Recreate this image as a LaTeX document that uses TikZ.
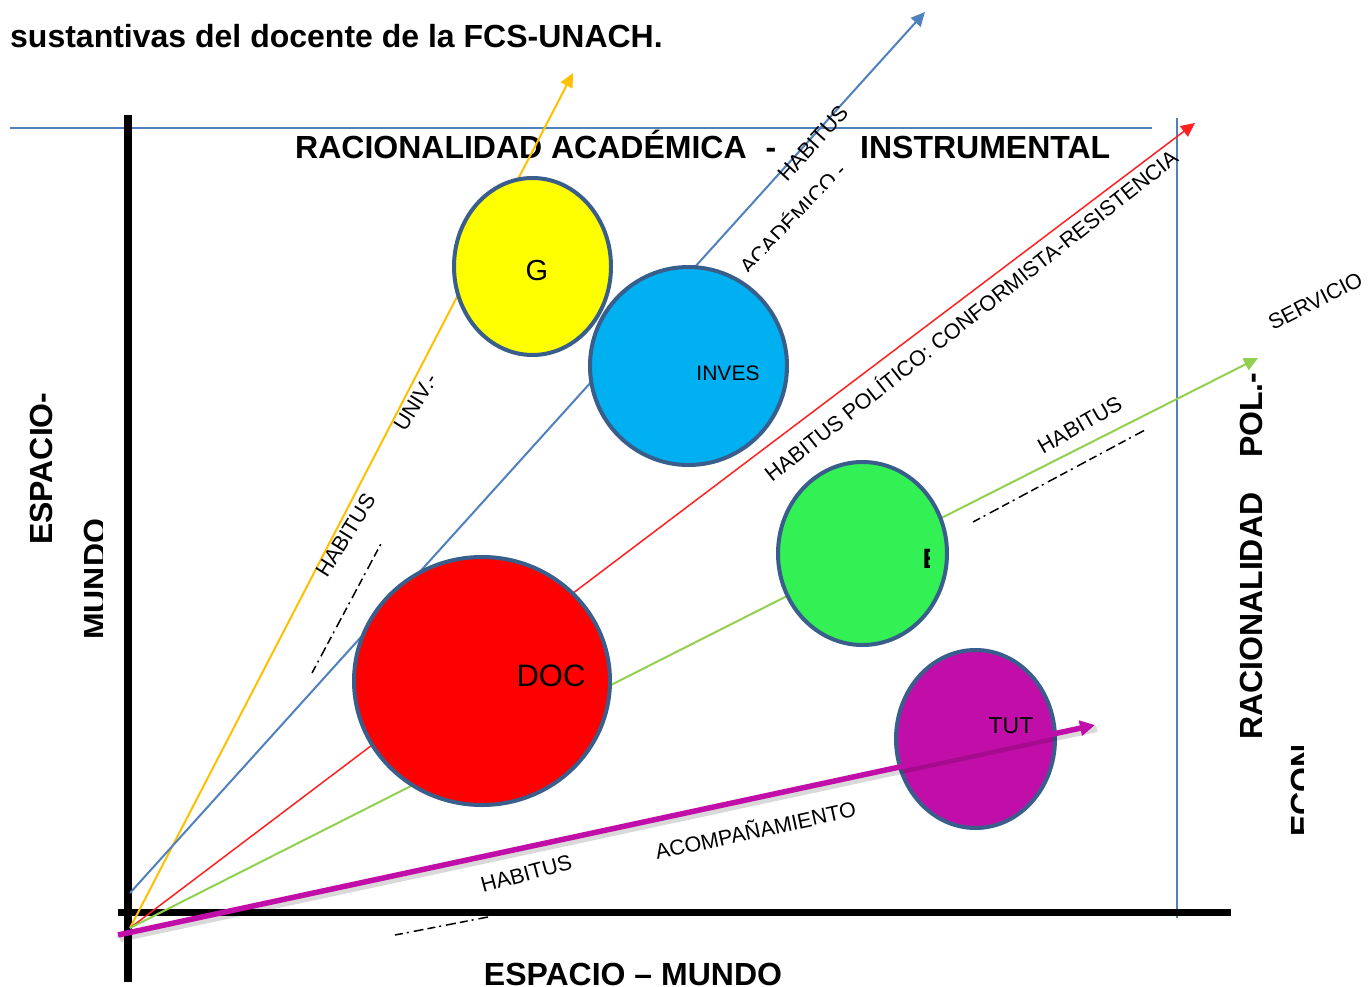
\documentclass[tikz,border=0pt]{standalone}
\usepackage{fontspec}
\setmainfont{Liberation Sans}
\usetikzlibrary{arrows.meta,shapes.geometric}
\definecolor{frameblue}{HTML}{4F81BD}
\definecolor{rayorange}{HTML}{FFC000}
\definecolor{raygreen}{HTML}{92D050}
\definecolor{rayred}{HTML}{FF2020}
\definecolor{cborder}{HTML}{3A5E8C}
\definecolor{cyellow}{HTML}{FFFF00}
\definecolor{cblue}{HTML}{00B0F0}
\definecolor{cred}{HTML}{FF0000}
\definecolor{cgreen}{HTML}{33F055}
\definecolor{cmag}{HTML}{C20EA8}
\begin{document}
\begin{tikzpicture}[x=1pt,y=-1pt,
  bigtxt/.style={font=\fontsize{32}{34}\selectfont\bfseries, inner sep=0pt},
  lbl/.style={font=\fontsize{21.5}{23}\selectfont, inner sep=0pt},
  bubble/.style={ellipse, draw=cborder, line width=4pt, inner sep=0pt},
  ray/.style={line width=2pt, -{Triangle[length=14pt,width=13pt]}},
  dashmark/.style={line width=1.5pt, dash pattern=on 8pt off 4pt on 2pt off 5pt on 10pt off 4pt}]

\useasboundingbox (0,0) rectangle (1368,987);
\fill[white] (0,0) rectangle (1368,987);

% title
\node[bigtxt, anchor=base west] (title) at (10,48) {sustantivas del docente de la FCS-UNACH.};

% frame lines
\coordinate (fl) at (10,128);
\coordinate (fr) at (1152,128);
\coordinate (vt) at (1177,118);
\coordinate (vb) at (1177,918);
\draw[frameblue, line width=1.5pt] (fl) -- (fr);
\draw[frameblue, line width=1.5pt] (vt) -- (vb);

% axes
\coordinate (yt) at (128,115);
\coordinate (yb) at (128,982);
\coordinate (xl) at (118,912);
\coordinate (xr) at (1231,912);
\draw[line width=8pt] (yt) -- (yb);
\draw[line width=7pt] (xl) -- (xr);

% header
\node[bigtxt, anchor=base west] (hdrA) at (295,159) {RACIONALIDAD ACADÉMICA};
\node[bigtxt, anchor=base] (hdrdash) at (771,159) {-};
\node[bigtxt, anchor=base west] (hdrB) at (860,159) {INSTRUMENTAL};

% rays
\coordinate (O) at (130,928);
\coordinate (Ob) at (130,893);
\coordinate (Om) at (118,935);
\coordinate (tO) at (573,73);
\coordinate (tB) at (925,12);
\coordinate (tR) at (1195,123);
\coordinate (tG) at (1258,358);
\coordinate (tM) at (1095,725);
\draw[ray, rayorange] (O) -- (tO);
\draw[ray, frameblue] (Ob) -- (tB);
\draw[ray, rayred, line width=1.5pt] (O) -- (tR);
\draw[ray, raygreen] (O) -- (tG);

% bubbles
\node[bubble, fill=cyellow, minimum width=157pt, minimum height=177pt] (G) at (532.5,266.5) {};
\node[bubble, fill=cblue, minimum width=197pt, minimum height=198pt] (INV) at (688.5,366) {};
\node[bubble, fill=cred, minimum width=256pt, minimum height=248pt] (DOC) at (482,681) {};
\node[bubble, fill=cgreen, minimum width=169pt, minimum height=183pt] (EXT) at (862.5,553.5) {};
\node[bubble, fill=cmag, minimum width=159pt, minimum height=178pt] (TUT) at (975.5,739) {};

\node[font=\fontsize{29}{30}\selectfont, inner sep=0pt] (Gl) at (537,271) {G};
\node[font=\fontsize{21}{23}\selectfont, inner sep=0pt] (INVl) at (728,373) {INVES};
\node[font=\fontsize{31}{33}\selectfont, inner sep=0pt] (DOCl) at (551,676) {DOC};
\node[font=\fontsize{23}{25}\selectfont, inner sep=0pt] (TUTl) at (1011,726) {TUT};
\begin{scope}
  \clip (900,530) rectangle (929.5,580);
  \node[font=\fontsize{28}{30}\selectfont\bfseries, anchor=base west, inner sep=0pt] (EXTl) at (922.5,568) {E};
\end{scope}

% magenta arrow with shadow
\coordinate (Oms) at (120,939);
\coordinate (tMs) at (1097,729);
\draw[black, opacity=0.15, line width=6pt] (Oms) -- (tMs);
\draw[cmag, line width=5.5pt, -{Triangle[length=15pt,width=15pt]}] (Om) -- (tM);

% rotated labels
\node[lbl, anchor=base west, rotate=58] (univ) at (405,433) {UNIV.-};
\node[lbl, anchor=base west, rotate=58] (habO) at (327,579) {HABITUS};
\node[lbl, anchor=base west, rotate=48] (habB) at (787,183) {HABITUS};
\begin{scope}[shift={(749,276)}, rotate=46.5]
  \clip (-5,-30) rectangle (160,-4);
  \node[lbl, anchor=base west, transform shape] (acad) at (0,0) {ACADÉMICO -};
\end{scope}
\node[lbl, anchor=base west, rotate=38.3] (habR) at (772,483) {HABITUS POLÍTICO: CONFORMISTA-RESISTENCIA};
\node[lbl, anchor=base west, rotate=30] (habG) at (1043,455) {HABITUS};
\node[lbl, anchor=base west, rotate=27] (serv) at (1273,331) {SERVICIO};
\node[lbl, anchor=base west, rotate=15] (habM) at (483,893) {HABITUS};
\node[lbl, anchor=base west, rotate=12.3] (acom) at (657,860) {ACOMPAÑAMIENTO};

% dashed marks
\coordinate (d1a) at (312,673);
\coordinate (d1b) at (383,540);
\coordinate (d2a) at (973,522);
\coordinate (d2b) at (1145,430);
\coordinate (d3a) at (395,935);
\coordinate (d3b) at (488,917);
\draw[dashmark] (d1a) -- (d1b);
\draw[dashmark] (d2a) -- (d2b);
\draw[dashmark] (d3a) -- (d3b);

% side labels
\node[bigtxt, rotate=90, anchor=base west] (espL) at (52,545) {ESPACIO-};
\begin{scope}
  \clip (60,500) rectangle (102,660);
  \node[bigtxt, rotate=90, anchor=base west] (mundoL) at (106,640) {MUNDO};
\end{scope}
\node[bigtxt, rotate=90, anchor=base west] (racR) at (1262,740) {RACIONALIDAD};
\node[bigtxt, rotate=90, anchor=base west] (polR) at (1262,458) {POL.-};
\begin{scope}
  \clip (1280,745) rectangle (1303,850);
  \node[bigtxt, rotate=90, anchor=base west] (econR) at (1313,837) {ECON};
\end{scope}

% bottom label
\node[bigtxt, anchor=base] (espB) at (633,985) {ESPACIO – MUNDO};
\end{tikzpicture}
\end{document}
